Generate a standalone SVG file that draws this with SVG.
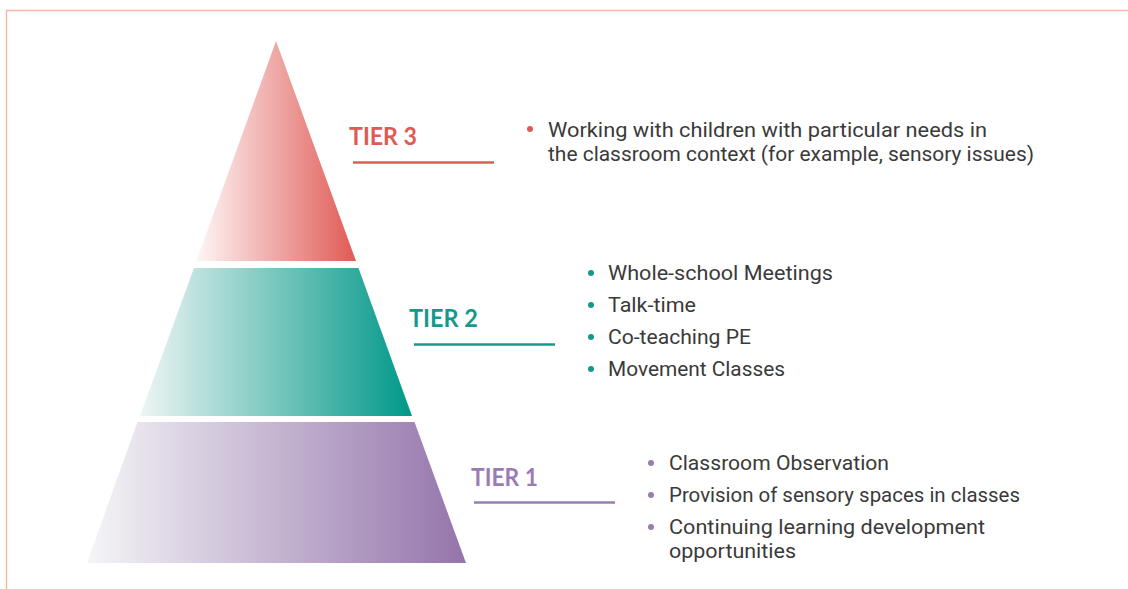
<svg xmlns="http://www.w3.org/2000/svg" width="1128" height="589" viewBox="0 0 1128 589">
<defs>
<linearGradient id="g3" x1="0" y1="0" x2="1" y2="0">
<stop offset="0" stop-color="#fdf6f6"/>
<stop offset="1" stop-color="#e05a55"/>
</linearGradient>
<linearGradient id="g2" x1="0" y1="0" x2="1" y2="0">
<stop offset="0" stop-color="#eef5f4"/>
<stop offset="1" stop-color="#009888"/>
</linearGradient>
<linearGradient id="g1" x1="0" y1="0" x2="1" y2="0">
<stop offset="0" stop-color="#f5f5f7"/>
<stop offset="1" stop-color="#9474ab"/>
</linearGradient>
<style>
.tier{font-family:Lato,"Open Sans",sans-serif;font-weight:bold;font-size:25px}
.body{font-family:Roboto,"Liberation Sans",sans-serif;font-size:20.3px;fill:#3a3a3a}
.rule{stroke-width:2.5;fill:none}
</style>
</defs>
<rect width="1128" height="589" fill="#ffffff"/>
<path d="M6.5 589 V10.5 H1128" fill="none" stroke="#f3b9a2" stroke-width="1.5"/>

<g id="tier3">
<polygon points="276,41 356,261 196.5,261" fill="url(#g3)"/>
<text class="tier" x="349" y="145" fill="#e05a55" textLength="68" lengthAdjust="spacingAndGlyphs">TIER 3</text>
<line class="rule" x1="353" y1="162.5" x2="494" y2="162.5" stroke="#e05a55"/>
<circle cx="530" cy="129" r="3" fill="#e05a55"/>
<text class="body" x="548" y="137" textLength="439" lengthAdjust="spacingAndGlyphs">Working with children with particular needs in</text>
<text class="body" x="548" y="161" textLength="486" lengthAdjust="spacingAndGlyphs">the classroom context (for example, sensory issues)</text>
</g>

<g id="tier2">
<polygon points="358.5,268 412,416 140,416 194,268" fill="url(#g2)"/>
<text class="tier" x="409" y="327" fill="#139a8c" textLength="69" lengthAdjust="spacingAndGlyphs">TIER 2</text>
<line class="rule" x1="414" y1="344.5" x2="555" y2="344.5" stroke="#139a8c"/>
<circle cx="591" cy="273" r="3" fill="#139a8c"/>
<circle cx="591" cy="305" r="3" fill="#139a8c"/>
<circle cx="591" cy="337" r="3" fill="#139a8c"/>
<circle cx="591" cy="369" r="3" fill="#139a8c"/>
<text class="body" x="608" y="280" textLength="225" lengthAdjust="spacingAndGlyphs">Whole-school Meetings</text>
<text class="body" x="608" y="312" textLength="88" lengthAdjust="spacingAndGlyphs">Talk-time</text>
<text class="body" x="608" y="344" textLength="143" lengthAdjust="spacingAndGlyphs">Co-teaching PE</text>
<text class="body" x="608" y="376" textLength="177" lengthAdjust="spacingAndGlyphs">Movement Classes</text>
</g>

<g id="tier1">
<polygon points="414.5,422 466,563 87,563 137.5,422" fill="url(#g1)"/>
<text class="tier" x="471" y="486" fill="#9a7cb5" textLength="67" lengthAdjust="spacingAndGlyphs">TIER 1</text>
<line class="rule" x1="474" y1="502.5" x2="615" y2="502.5" stroke="#9a7cb5"/>
<circle cx="651" cy="463" r="3" fill="#9a7cb5"/>
<circle cx="651" cy="495" r="3" fill="#9a7cb5"/>
<circle cx="651" cy="527" r="3" fill="#9a7cb5"/>
<text class="body" x="669" y="470" textLength="220" lengthAdjust="spacingAndGlyphs">Classroom Observation</text>
<text class="body" x="669" y="502" textLength="351" lengthAdjust="spacingAndGlyphs">Provision of sensory spaces in classes</text>
<text class="body" x="669" y="534" textLength="316" lengthAdjust="spacingAndGlyphs">Continuing learning development</text>
<text class="body" x="669" y="558" textLength="127" lengthAdjust="spacingAndGlyphs">opportunities</text>
</g>
</svg>
